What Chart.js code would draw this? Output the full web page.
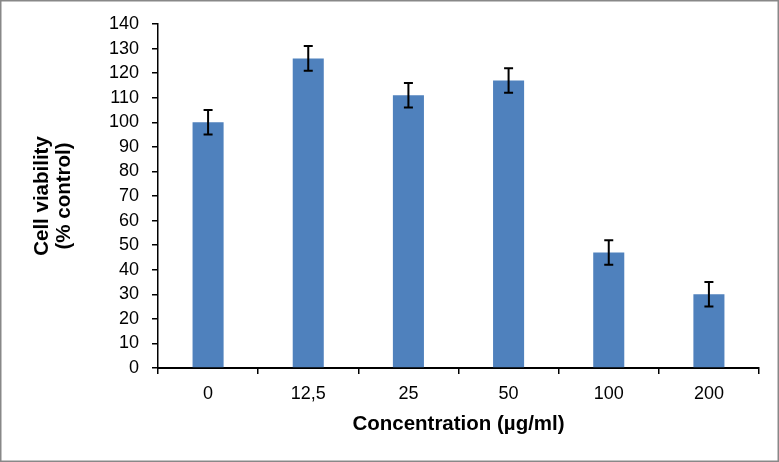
<!DOCTYPE html>
<html>
<head>
<meta charset="utf-8">
<script src="https://cdn.jsdelivr.net/npm/chart.js@4"></script>
<style>
  html, body { margin: 0; padding: 0; background: #fff; }
  #wrap { width: 779px; height: 462px; position: relative; }
</style>
</head>
<body>
<div id="wrap"><canvas id="c" width="779" height="462"></canvas></div>
<script>
const categories = ["0", "12,5", "25", "50", "100", "200"];
const viability = [100, 126, 111, 117, 47, 30];
const errors = [5, 5, 5, 5, 5, 5];
const yTicks = [0, 10, 20, 30, 40, 50, 60, 70, 80, 90, 100, 110, 120, 130, 140];

const errorBars = {
  id: 'errorBars',
  afterDatasetsDraw(chart) {
    const ctx = chart.ctx;
    const meta = chart.getDatasetMeta(0);
    const y = chart.scales.y;
    ctx.save();
    ctx.strokeStyle = '#000';
    ctx.lineWidth = 2;
    meta.data.forEach((bar, i) => {
      const x = bar.x;
      const top = y.getPixelForValue(viability[i] + errors[i]);
      const bot = y.getPixelForValue(viability[i] - errors[i]);
      ctx.beginPath();
      ctx.moveTo(x, top); ctx.lineTo(x, bot);
      ctx.moveTo(x - 4.5, top); ctx.lineTo(x + 4.5, top);
      ctx.moveTo(x - 4.5, bot); ctx.lineTo(x + 4.5, bot);
      ctx.stroke();
    });
    ctx.restore();
  }
};

const frame = {
  id: 'frame',
  afterDraw(chart) {
    const ctx = chart.ctx;
    ctx.save();
    ctx.strokeStyle = '#888';
    ctx.lineWidth = 1.5;
    ctx.strokeRect(0.75, 0.75, chart.width - 1.5, chart.height - 1.5);
    ctx.restore();
  }
};

new Chart(document.getElementById('c'), {
  type: 'bar',
  data: {
    labels: categories,
    datasets: [{
      data: viability,
      backgroundColor: '#4F81BD',
      borderWidth: 0,
      barPercentage: 0.31,
      categoryPercentage: 1.0
    }]
  },
  options: {
    responsive: false,
    animation: false,
    devicePixelRatio: 1,
    layout: { padding: { top: 24, right: 20, left: 0, bottom: 0 } },
    plugins: { legend: { display: false }, tooltip: { enabled: false } },
    scales: {
      x: {
        offset: true,
        grid: { display: true, drawOnChartArea: false, drawTicks: true, tickLength: 6, offset: true, color: '#000', lineWidth: 1.5 },
        border: { display: true, color: '#000', width: 2 },
        ticks: { color: '#000', font: { family: 'Liberation Sans, Arial', size: 18 }, padding: 9, maxRotation: 0, autoSkip: false },
        title: {
          display: true, text: 'Concentration (µg/ml)', color: '#000',
          font: { family: 'Liberation Sans, Arial', size: 20.5, weight: 'bold', lineHeight: 1.2 },
          padding: { top: 0, bottom: 25 }
        },
        afterFit(scale) { scale.height = 94; }
      },
      y: {
        min: 0, max: 140,
        afterBuildTicks(scale) { scale.ticks = yTicks.map(v => ({ value: v })); },
        grid: { display: true, drawOnChartArea: false, drawTicks: true, tickLength: 6, color: '#000', lineWidth: 1.5 },
        border: { display: true, color: '#000', width: 1.5 },
        ticks: { color: '#000', font: { family: 'Liberation Sans, Arial', size: 18 }, padding: 13, autoSkip: false },
        title: {
          display: true, text: ['Cell viability', '(% control)'], color: '#000',
          font: { family: 'Liberation Sans, Arial', size: 20.5, weight: 'bold', lineHeight: 1.1 },
          padding: { top: 31, bottom: 0 }
        },
        afterFit(scale) { scale.width = 158; }
      }
    }
  },
  plugins: [errorBars, frame]
});
</script>
</body>
</html>
